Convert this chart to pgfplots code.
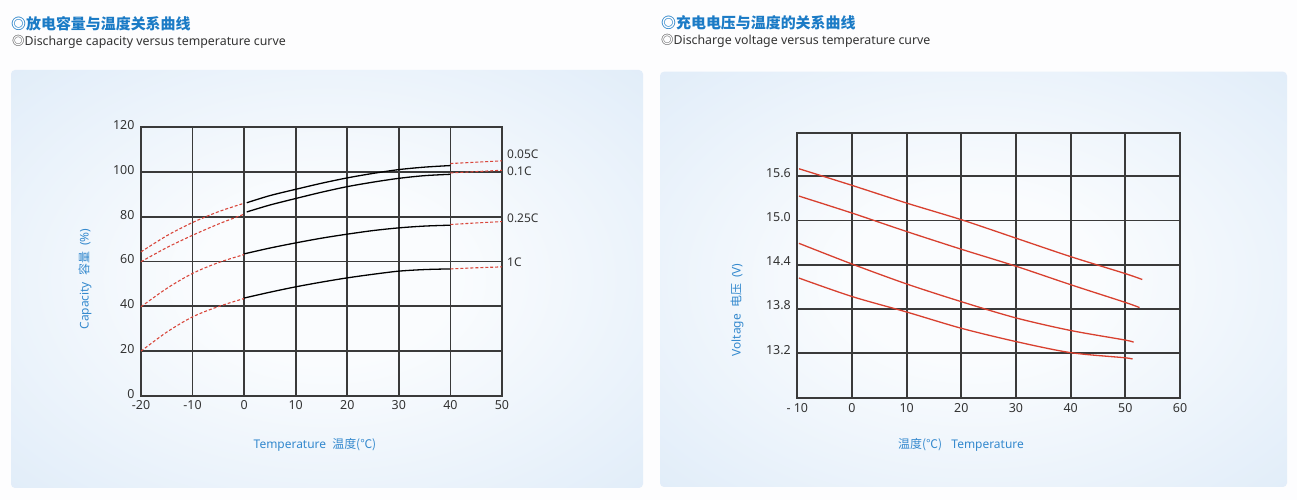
\documentclass[border=0pt]{standalone}
\usepackage{fontspec}
\usepackage{pgfplots}
\pgfplotsset{compat=1.18}
\setmainfont{Noto Sans}
\newfontfamily\cjk{Noto Sans CJK SC}
\definecolor{gridc}{HTML}{3A3A3A}
\definecolor{tickc}{HTML}{333333}
\definecolor{lblue}{HTML}{3489CE}
\definecolor{tblue}{HTML}{1B7BC6}
\definecolor{redc}{HTML}{D8402F}
\definecolor{dashred}{HTML}{D9473C}
\definecolor{bgc}{HTML}{FDFDFE}
\definecolor{panelwhite}{HTML}{FAFCFE}
\definecolor{panelmid}{HTML}{D9E8F7}
\definecolor{panelblue}{HTML}{C4DBF2}
\pgfdeclareradialshading{panelshade}{\pgfpoint{0bp}{0bp}}{color(0bp)=(panelwhite); color(10bp)=(panelwhite); color(44bp)=(panelmid); color(72bp)=(panelblue)}
\pgfplotsset{mygrid/.style={scale only axis, grid=major,
  major grid style={draw=gridc, line width=1.8bp},
  axis line style={draw=gridc, line width=1.8bp},
  tick style={draw=none},
  /pgf/number format/assume math mode=true,
  ticklabel style={font=\fontsize{12.5}{14}\selectfont, text=tickc},
  clip=false}}
\begin{document}
\begin{tikzpicture}
\fill[bgc] (0,0) rectangle (1297bp,500bp);
\path[use as bounding box] (0,0) rectangle (1297bp,500bp);
\shade[shading=panelshade, rounded corners=4bp] (11bp,12bp) rectangle (643bp,430bp);
\shade[shading=panelshade, rounded corners=4bp] (660bp,13bp) rectangle (1287bp,428.3bp);
% titles
\node[anchor=west, text=tblue, font=\cjk\bfseries\fontsize{15}{17}\selectfont, inner sep=0] at (11bp,476bp) {◎放电容量与温度关系曲线};
\node[anchor=west, text=tickc, font=\fontsize{12.4}{14}\selectfont, inner sep=0] at (12bp,458bp) {{\cjk ◎}Discharge capacity versus temperature curve};
\node[anchor=west, text=tblue, font=\cjk\bfseries\fontsize{15}{17}\selectfont, inner sep=0] at (661bp,477bp) {◎充电电压与温度的关系曲线};
\node[anchor=west, text=tickc, font=\fontsize{12.4}{14}\selectfont, inner sep=0] at (661bp,459bp) {{\cjk ◎}Discharge voltage versus temperature curve};
% axis labels
\node[text=lblue, font=\fontsize{12}{14}\selectfont, inner sep=0] at (315bp,55bp) {Temperature\ \ {\cjk 温度(℃)}};
\node[text=lblue, font=\fontsize{12}{14}\selectfont, inner sep=0] at (961bp,55bp) {{\cjk 温度(℃)}\ \ \ Temperature};
\node[text=lblue, font=\fontsize{12}{14}\selectfont, inner sep=0, rotate=90] at (85bp,221bp) {Capacity\ \ {\cjk 容量}\ \ (\%)};
\node[text=lblue, font=\fontsize{12}{14}\selectfont, inner sep=0, rotate=90] at (737bp,190bp) {Voltage\ \ {\cjk 电压}\ \ (V)};

% ---------- left chart ----------
\begin{axis}[mygrid, at={(141bp,104bp)}, anchor=south west,
  width=361bp, height=269bp,
  xmin=-20, xmax=50, ymin=0, ymax=120,
  xtick={-20,-10,0,10,20,30,40,50},
  xticklabels={-20,-10,0,10,20,30,40,50},
  ytick={0,20,40,60,80,100,120},
  yticklabel style={xshift=-3bp, yshift=2bp},
  xticklabel style={yshift=-1bp}]
% 0.05C
\addplot[dashred, densely dashed, line width=1.1bp, smooth] coordinates {(-20,64.3) (-15,71.5) (-10,77.4) (-5,82.2) (0,86.0)};
\addplot[black, line width=1.3bp, smooth] coordinates {(0.5,86.2) (5,89.4) (10,92.2) (15,94.9) (20,97.3) (25,99.3) (30,101.0) (35,102.1) (40,102.8)};
\addplot[dashred, densely dashed, line width=1.1bp] coordinates {(40,103.7) (45,104.3) (50,104.9)};
% 0.1C
\addplot[dashred, densely dashed, line width=1.1bp, smooth] coordinates {(-20,59.9) (-15,66.2) (-10,71.7) (-5,76.7) (0,81.1)};
\addplot[black, line width=1.3bp, smooth] coordinates {(0.5,82.1) (5,85.2) (10,88.1) (15,90.9) (20,93.4) (25,95.4) (30,97.1) (35,98.3) (40,98.9)};
\addplot[dashred, densely dashed, line width=1.1bp] coordinates {(40,99.5) (45,100.1) (50,100.7)};
% 0.25C
\addplot[dashred, densely dashed, line width=1.1bp, smooth] coordinates {(-20,39.8) (-15,48.0) (-10,54.7) (-5,59.5) (0,63.1)};
\addplot[black, line width=1.3bp, smooth] coordinates {(0,63.4) (5,66.0) (10,68.3) (15,70.4) (20,72.2) (25,73.8) (30,75.0) (35,75.8) (40,76.2)};
\addplot[dashred, densely dashed, line width=1.1bp] coordinates {(40,76.5) (45,77.2) (50,77.8)};
% 1C
\addplot[dashred, densely dashed, line width=1.1bp, smooth] coordinates {(-20,20.0) (-15,28.5) (-10,35.3) (-5,39.9) (0,43.5)};
\addplot[black, line width=1.3bp, smooth] coordinates {(0,43.7) (5,46.3) (10,48.7) (15,50.8) (20,52.7) (25,54.3) (30,55.7) (35,56.4) (40,56.7)};
\addplot[dashred, densely dashed, line width=1.1bp] coordinates {(40,56.7) (45,57.2) (50,57.6)};
\node[anchor=west, inner sep=0, xshift=5bp, text=tickc, font=\fontsize{12}{14}\selectfont] at (axis cs:50,107.8) {0.05C};
\node[anchor=west, inner sep=0, xshift=5bp, text=tickc, font=\fontsize{12}{14}\selectfont] at (axis cs:50,100.1) {0.1C};
\node[anchor=west, inner sep=0, xshift=5bp, text=tickc, font=\fontsize{12}{14}\selectfont] at (axis cs:50,79.5) {0.25C};
\node[anchor=west, inner sep=0, xshift=5bp, text=tickc, font=\fontsize{12}{14}\selectfont] at (axis cs:50,59.5) {1C};
\end{axis}

% ---------- right chart ----------
\begin{axis}[mygrid, at={(797.3bp,102.3bp)}, anchor=south west,
  width=382.7bp, height=264.4bp,
  xmin=-10, xmax=60, ymin=12.6, ymax=16.18,
  xtick={-10,0,10,20,30,40,50,60},
  xticklabels={- 10,0,10,20,30,40,50,60},
  ytick={13.2,13.8,14.4,15.0,15.6},
  yticklabels={13.2,13.8,14.4,15.0,15.6},
  yticklabel style={xshift=-3bp, yshift=3.5bp},
  xticklabel style={yshift=-2bp}]
\addplot[redc, line width=1.3bp, smooth] coordinates {(-9.7,15.70) (0,15.475) (10,15.235) (20,15.01) (30,14.76) (40,14.51) (50,14.28) (53.1,14.20)};
\addplot[redc, line width=1.3bp, smooth] coordinates {(-9.7,15.33) (0,15.10) (10,14.85) (20,14.61) (30,14.38) (40,14.13) (50,13.89) (52.6,13.82)};
\addplot[redc, line width=1.3bp, smooth] coordinates {(-9.7,14.69) (0,14.41) (10,14.14) (20,13.90) (30,13.68) (40,13.51) (50,13.38) (51.5,13.35)};
\addplot[redc, line width=1.3bp, smooth] coordinates {(-9.7,14.22) (0,13.97) (10,13.76) (20,13.54) (30,13.36) (40,13.21) (50,13.14) (51.3,13.12)};
\end{axis}
\end{tikzpicture}
\end{document}
